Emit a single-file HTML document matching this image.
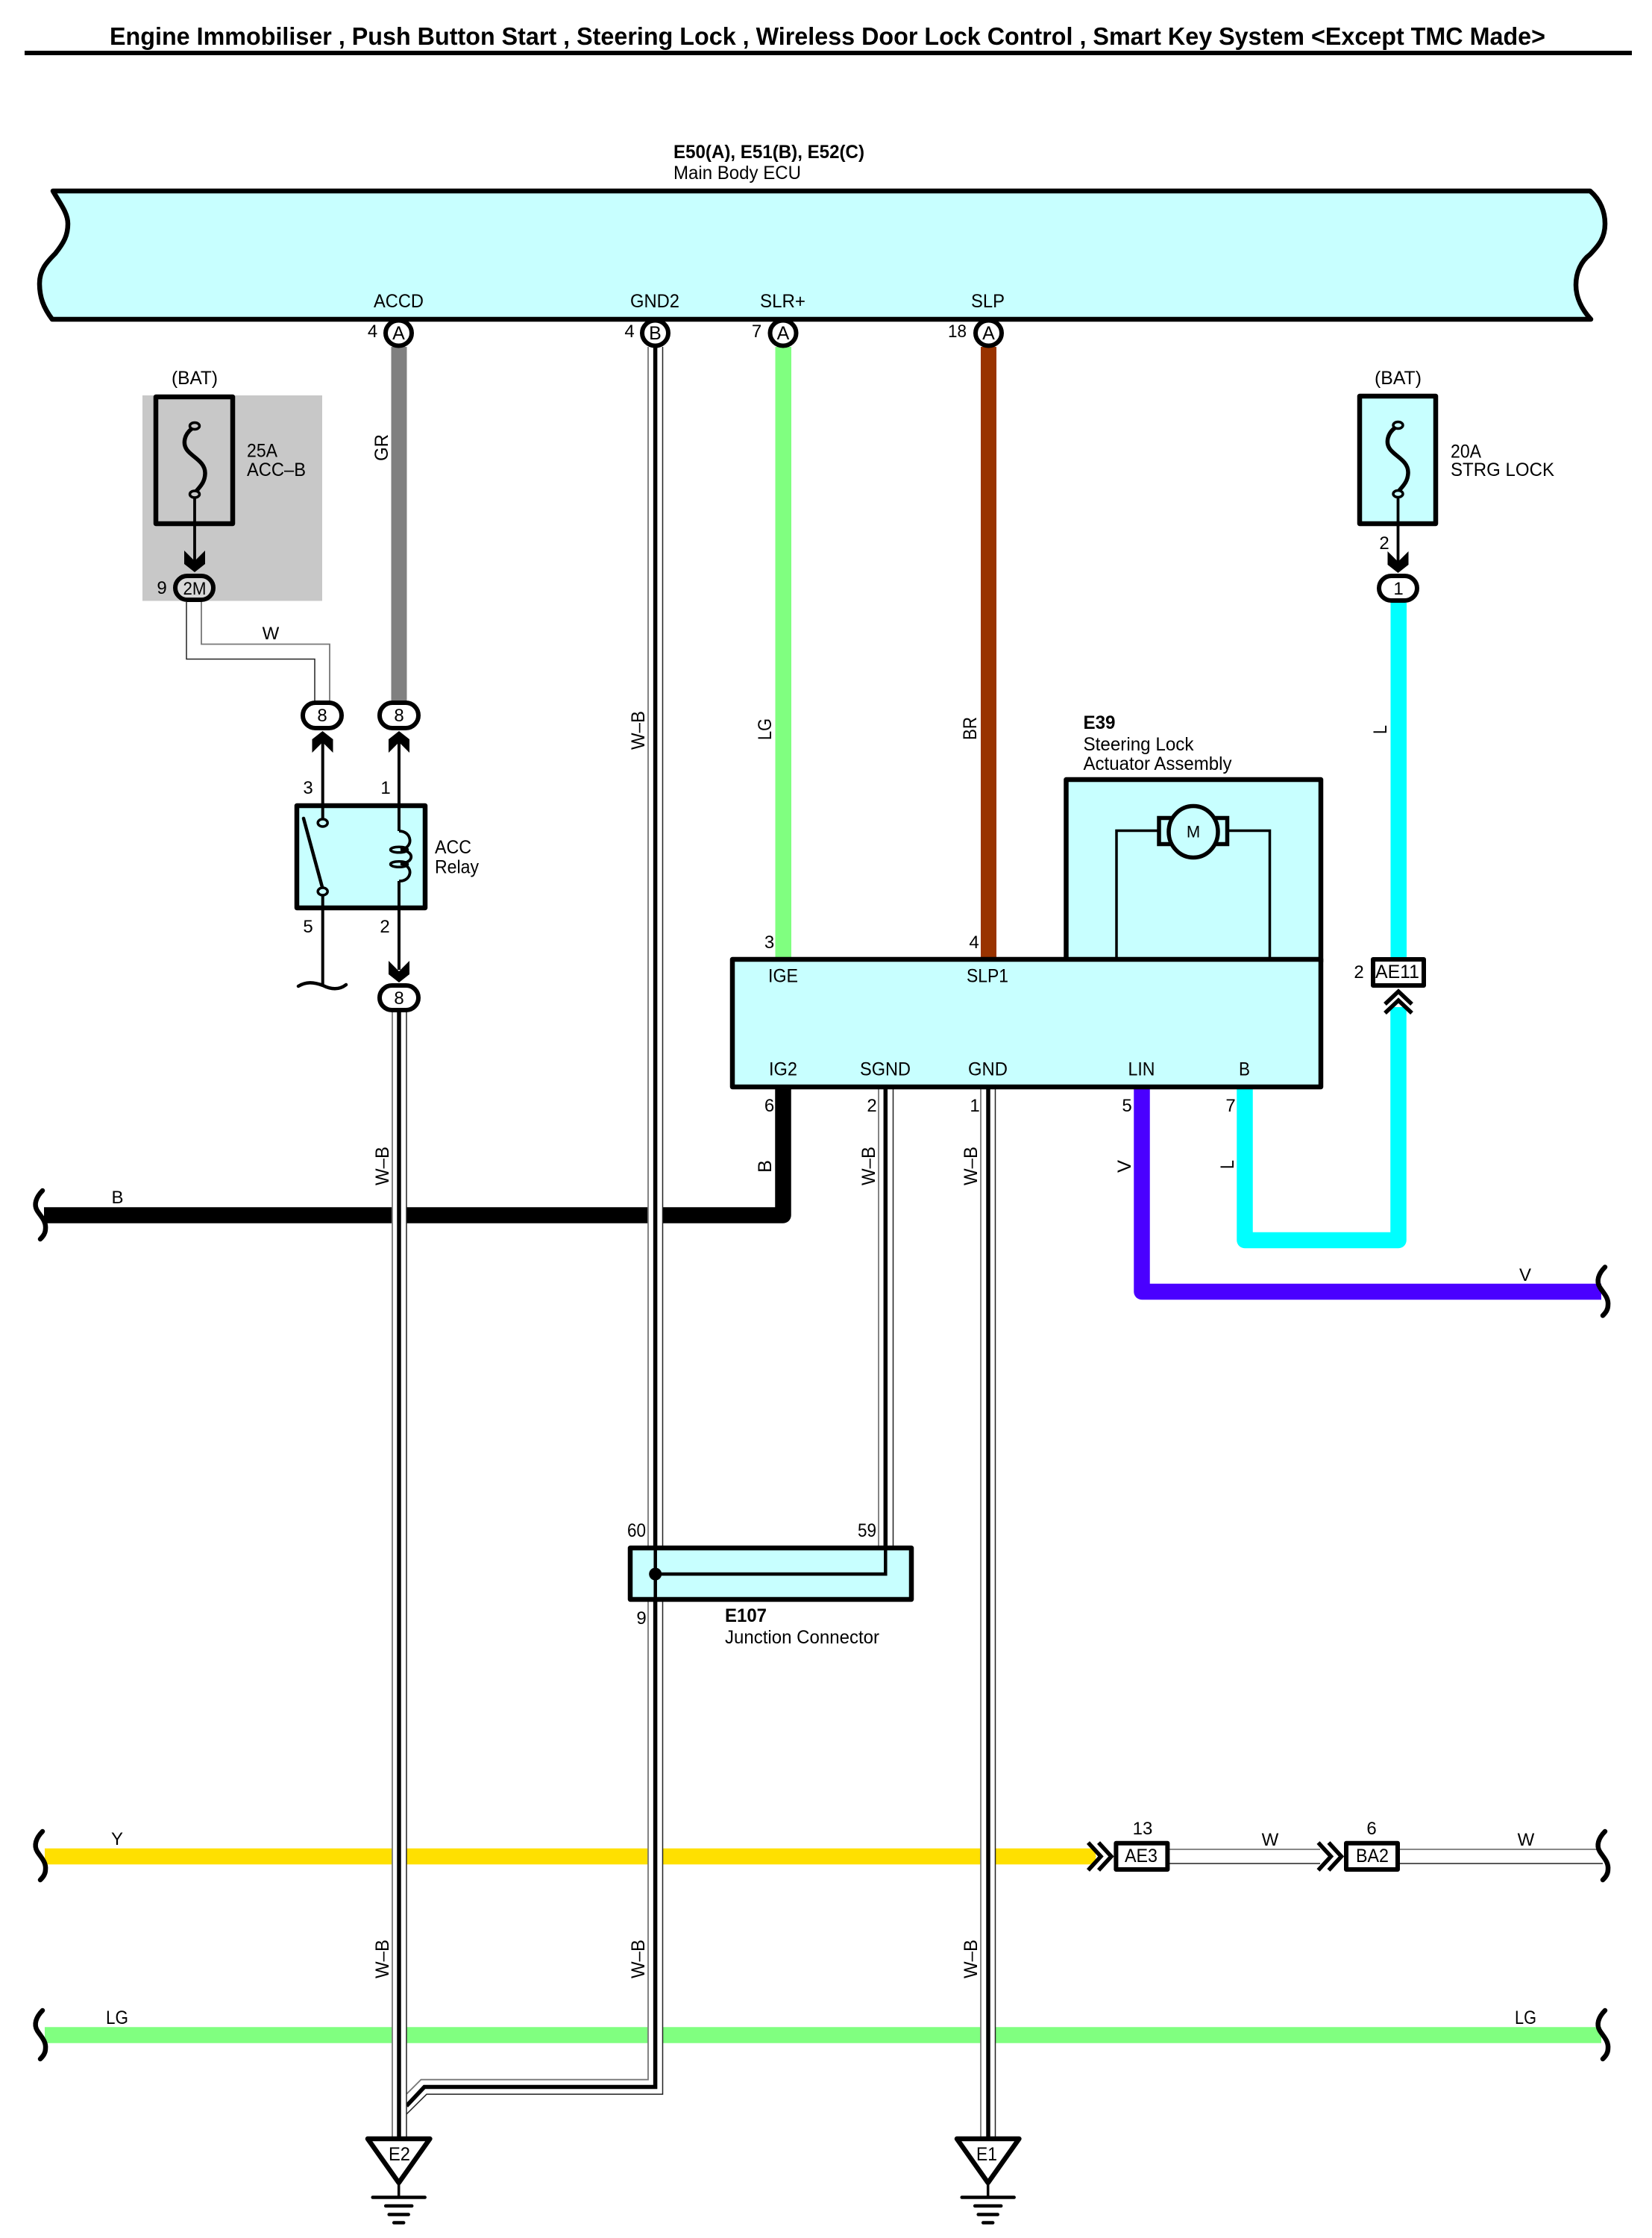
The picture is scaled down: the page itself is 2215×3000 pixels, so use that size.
<!DOCTYPE html>
<html>
<head>
<meta charset="utf-8">
<title>Engine Immobiliser Wiring Diagram</title>
<style>
html,body{margin:0;padding:0;background:#fff;}
svg{display:block;}
text{font-family:"Liberation Sans",sans-serif;font-size:25px;fill:#000;}
.b{font-weight:bold;}
.m{text-anchor:middle;}
.k{fill:none;stroke:#000;}
</style>
</head>
<body>
<svg xmlns="http://www.w3.org/2000/svg" width="2215" height="3000" viewBox="0 0 2215 3000">
<defs>
  <path id="wave" d="M57,-33 C48,-24 45,-14 50,-6 C55,2 62,8 61,18 C61,24 58,28 54,32" fill="none" stroke="#000" stroke-width="6.5" stroke-linecap="round"/>
  <polygon id="chev" points="-14,0 0,14 14,0 14,18 0,29 -14,18"/>
  <g id="gnd">
    <path d="M-41.7,2.5 H41.7 L0,61.5 Z" fill="#fff" stroke="#000" stroke-width="6.5" stroke-linejoin="round" transform="translate(0,2.5)"/>
    <path d="M0,62 V83" stroke="#000" stroke-width="3.5"/>
    <path d="M-35,83.5 H35 M-17.5,95 H17.5 M-13,106.5 H13 M-6.5,117.5 H6.5" stroke="#000" stroke-width="4.5" stroke-linecap="round"/>
  </g>
</defs>

<rect width="2215" height="3000" fill="#fff"/>

<!-- Title -->
<text x="147" y="60" class="b" style="font-size:33px" textLength="1925" lengthAdjust="spacingAndGlyphs">Engine Immobiliser , Push Button Start , Steering Lock , Wireless Door Lock Control , Smart Key System &lt;Except TMC Made&gt;</text>
<rect x="33" y="68" width="2155" height="6"/>

<!-- ECU -->
<text x="903" y="212" class="b" textLength="256" lengthAdjust="spacingAndGlyphs">E50(A), E51(B), E52(C)</text>
<text x="903" y="240" textLength="171" lengthAdjust="spacingAndGlyphs">Main Body ECU</text>
<path d="M71,256 H2132 C2146,268 2152,284 2152,300 C2152,322 2140,332 2132,341 C2120,350 2113,365 2113,382 C2113,400 2122,416 2133,428 H70 C58,412 53,398 53,380 C53,362 62,352 74,340 C86,325 91,315 91,300 C91,285 80,272 71,256 Z" fill="#c8ffff" stroke="#000" stroke-width="6.5" stroke-linejoin="round"/>
<text x="501" y="412" textLength="67" lengthAdjust="spacingAndGlyphs">ACCD</text>
<text x="845" y="412" textLength="66" lengthAdjust="spacingAndGlyphs">GND2</text>
<text x="1019" y="412" textLength="61" lengthAdjust="spacingAndGlyphs">SLR+</text>
<text x="1302" y="412" textLength="45" lengthAdjust="spacingAndGlyphs">SLP</text>

<!-- Gray fuse area -->
<rect x="191" y="530" width="241" height="275.5" fill="#c8c8c8"/>

<!-- Horizontal wires -->
<path d="M60,2488.5 H1462 L1469,2488.5" stroke="#ffe000" stroke-width="21.5" fill="none"/>
<polygon points="1462,2477.7 1470,2488.5 1462,2499.3" fill="#ffe000"/>
<path d="M60,2728 H2147" stroke="#80ff80" stroke-width="21.5" fill="none"/>
<path d="M1050,1460 V1629 H59" stroke="#000" stroke-width="21.5" fill="none" stroke-linejoin="round"/>
<path d="M1531,1460 V1731.5 H2147" stroke="#4a00ff" stroke-width="21.5" fill="none" stroke-linejoin="round"/>
<path d="M1669,1460 V1662.5 H1875 V1350" stroke="#00ffff" stroke-width="21.5" fill="none" stroke-linejoin="round"/>

<!-- W thin wire at right -->
<path d="M1568,2479 H1770 M1877,2479 H2145" stroke="#777" stroke-width="1.8"/>
<path d="M1568,2498 H1770 M1877,2498 H2149" stroke="#222" stroke-width="1.5"/>

<!-- Solid vertical wires -->
<rect x="524.5" y="465" width="21" height="475" fill="#808080"/>
<rect x="1039.5" y="465" width="21.5" height="822" fill="#80ff80"/>
<rect x="1315" y="465" width="21" height="822" fill="#993300"/>
<rect x="1864.5" y="805" width="21.5" height="480" fill="#00ffff"/>

<!-- W wire between 2M and 8 -->
<path d="M250,807 V883.5 H422 V940" fill="none" stroke="#222" stroke-width="1.5"/>
<path d="M270,807 V863.5 H442 V940" fill="none" stroke="#777" stroke-width="1.8"/>

<!-- W-B bend wire -->
<polygon points="869,465 888.5,465 888.5,2807.3 572,2807.3 545,2834 545,2806.7 564.5,2787.7 869,2787.7" fill="#fff"/>
<path d="M869,465 V2787.7 H564.5 L545.4,2806.7" fill="none" stroke="#777" stroke-width="1.8"/>
<path d="M888.5,465 V2807.3 H572 L545,2834" fill="none" stroke="#222" stroke-width="1.5"/>
<path d="M878.6,465 V2797.5 H569 L545,2823" fill="none" stroke="#000" stroke-width="5.5"/>

<!-- W-B left wire -->
<rect x="526" y="1355" width="19" height="1512" fill="#fff"/>
<path d="M526,1355 V2867" stroke="#777" stroke-width="1.8"/>
<path d="M545,1355 V2867" stroke="#222" stroke-width="1.5"/>
<path d="M535,1355 V2867" stroke="#000" stroke-width="5.5"/>

<!-- W-B GND wire -->
<rect x="1315" y="1458" width="19.5" height="1409" fill="#fff"/>
<path d="M1315,1458 V2867" stroke="#777" stroke-width="1.8"/>
<path d="M1334.5,1458 V2867" stroke="#222" stroke-width="1.5"/>
<path d="M1325,1458 V2867" stroke="#000" stroke-width="5.5"/>

<!-- W-B SGND wire -->
<rect x="1178" y="1458" width="19.5" height="616" fill="#fff"/>
<path d="M1178,1458 V2074" stroke="#777" stroke-width="1.8"/>
<path d="M1197.5,1458 V2074" stroke="#222" stroke-width="1.5"/>
<path d="M1187.3,1458 V2074" stroke="#000" stroke-width="5.5"/>

<!-- Break waves -->
<use href="#wave" transform="translate(0,1629)"/>
<use href="#wave" transform="translate(0,2488)"/>
<use href="#wave" transform="translate(0,2728)"/>
<use href="#wave" transform="translate(2095,1731.5)"/>
<use href="#wave" transform="translate(2095,2488)"/>
<use href="#wave" transform="translate(2095,2728)"/>

<!-- ECU connectors -->
<g fill="#fff" stroke="#000" stroke-width="6">
  <ellipse cx="534.5" cy="446.5" rx="17.5" ry="17"/>
  <ellipse cx="878.5" cy="446.5" rx="17.5" ry="17"/>
  <ellipse cx="1050" cy="446.5" rx="17.5" ry="17"/>
  <ellipse cx="1325.5" cy="446.5" rx="17.5" ry="17"/>
</g>
<text x="534.5" y="455" style="font-size:25px;text-anchor:middle">A</text>
<text x="878.5" y="455" style="font-size:25px;text-anchor:middle">B</text>
<text x="1050" y="455" style="font-size:25px;text-anchor:middle">A</text>
<text x="1325.5" y="455" style="font-size:25px;text-anchor:middle">A</text>
<text x="499.5" y="452" style="text-anchor:middle;font-size:24px">4</text>
<text x="844" y="452" style="text-anchor:middle;font-size:24px">4</text>
<text x="1014.5" y="452" style="text-anchor:middle;font-size:24px">7</text>
<text x="1271" y="452" style="font-size:24px" textLength="25" lengthAdjust="spacingAndGlyphs">18</text>

<!-- Left fuse -->
<text x="230" y="515" textLength="62" lengthAdjust="spacingAndGlyphs">(BAT)</text>
<rect x="209" y="532" width="103" height="170" fill="none" stroke="#000" stroke-width="6.5" stroke-linejoin="round"/>
<path d="M258,574 C247,582 245,594 250,602 C256,612 275,618 275,634 C275,648 266,654 262,660" fill="none" stroke="#000" stroke-width="5.5"/>
<path d="M261,665 V760" stroke="#000" stroke-width="3.8"/>
<ellipse cx="261" cy="571" rx="6.5" ry="4.5" fill="#c8c8c8" stroke="#000" stroke-width="3.5"/>
<ellipse cx="261" cy="662.5" rx="6.5" ry="4.5" fill="#c8c8c8" stroke="#000" stroke-width="3.5"/>
<use href="#chev" transform="translate(261,738)"/>
<text x="331" y="612.5" textLength="41" lengthAdjust="spacingAndGlyphs">25A</text>
<text x="331" y="638" textLength="79" lengthAdjust="spacingAndGlyphs">ACC–B</text>
<rect x="235" y="772" width="51" height="32" rx="16" fill="#d8d8d8" stroke="#000" stroke-width="6"/>
<text x="261" y="797" style="text-anchor:middle;font-size:24px" textLength="31" lengthAdjust="spacingAndGlyphs">2M</text>
<text x="217" y="796" style="text-anchor:middle;font-size:24px">9</text>
<text x="363" y="857" style="text-anchor:middle;font-size:24px">W</text>

<!-- Connector 8s and relay -->
<rect x="406" y="942" width="52" height="34" rx="17" fill="#fff" stroke="#000" stroke-width="6"/>
<rect x="509" y="942" width="52" height="34" rx="17" fill="#fff" stroke="#000" stroke-width="6"/>
<text x="432" y="967" style="text-anchor:middle;font-size:24px">8</text>
<text x="535" y="967" style="text-anchor:middle;font-size:24px">8</text>
<use href="#chev" transform="translate(432.5,1009) rotate(180)"/>
<use href="#chev" transform="translate(535,1009) rotate(180)"/>
<path d="M432.7,990 V1100 M535,990 V1114 M432.7,1198 V1321 M535,1181 V1300" stroke="#000" stroke-width="4" fill="none"/>
<rect x="398" y="1080" width="172" height="137" fill="#c8ffff" stroke="#000" stroke-width="6.5" stroke-linejoin="round"/>
<path d="M432.7,1077 V1100 M535,1077 V1114 M432.7,1198 V1220 M535,1181 V1220" stroke="#000" stroke-width="4" fill="none"/>
<ellipse cx="432.7" cy="1103" rx="6.5" ry="5" fill="#c8ffff" stroke="#000" stroke-width="3.5"/>
<ellipse cx="432.7" cy="1195" rx="6.5" ry="5" fill="#c8ffff" stroke="#000" stroke-width="3.5"/>
<path d="M407,1097 L432,1189" stroke="#000" stroke-width="4.5" stroke-linecap="round"/>
<path d="M535,1114 C552,1114 556,1136 537,1139 M537,1139 C556,1141 556,1156 537,1158 M537,1158 C556,1160 552,1182 535,1181" fill="none" stroke="#000" stroke-width="3.8"/>
<ellipse cx="535" cy="1139" rx="11.5" ry="3.8" fill="none" stroke="#000" stroke-width="3.5"/>
<ellipse cx="535" cy="1158.5" rx="11.5" ry="3.8" fill="none" stroke="#000" stroke-width="3.5"/>
<text x="413" y="1064" style="text-anchor:middle;font-size:24px">3</text>
<text x="517" y="1064" style="text-anchor:middle;font-size:24px">1</text>
<text x="413" y="1250" style="text-anchor:middle;font-size:24px">5</text>
<text x="516" y="1250" style="text-anchor:middle;font-size:24px">2</text>
<text x="583" y="1144" textLength="49" lengthAdjust="spacingAndGlyphs">ACC</text>
<text x="583" y="1170.5" textLength="59" lengthAdjust="spacingAndGlyphs">Relay</text>
<path d="M400,1322 C410,1316 420,1316 433,1321 C445,1327 455,1327 464,1320" fill="none" stroke="#000" stroke-width="4.5" stroke-linecap="round"/>
<use href="#chev" transform="translate(535,1288)"/>
<rect x="509" y="1321" width="52" height="33" rx="16.5" fill="#fff" stroke="#000" stroke-width="6"/>
<text x="535" y="1346" style="text-anchor:middle;font-size:24px">8</text>

<!-- Right fuse -->
<text x="1843" y="515" textLength="63" lengthAdjust="spacingAndGlyphs">(BAT)</text>
<rect x="1823" y="531" width="102" height="171" fill="#c8ffff" stroke="#000" stroke-width="6.5" stroke-linejoin="round"/>
<path d="M1871,573 C1860,581 1858,593 1863,601 C1869,611 1888,617 1888,633 C1888,647 1879,653 1875,659" fill="none" stroke="#000" stroke-width="5.5"/>
<path d="M1874.5,665 V760" stroke="#000" stroke-width="3.8"/>
<ellipse cx="1874.5" cy="570" rx="6.5" ry="4.5" fill="#c8ffff" stroke="#000" stroke-width="3.5"/>
<ellipse cx="1874.5" cy="662" rx="6.5" ry="4.5" fill="#c8ffff" stroke="#000" stroke-width="3.5"/>
<use href="#chev" transform="translate(1874.5,739)"/>
<text x="1945" y="613.5" textLength="41" lengthAdjust="spacingAndGlyphs">20A</text>
<text x="1945" y="638" textLength="139" lengthAdjust="spacingAndGlyphs">STRG LOCK</text>
<text x="1856" y="736" style="text-anchor:middle;font-size:24px">2</text>
<rect x="1849" y="772" width="51" height="33" rx="16.5" fill="#fff" stroke="#000" stroke-width="6"/>
<text x="1875" y="797" style="text-anchor:middle;font-size:24px">1</text>

<!-- E39 + module -->
<text x="1452.5" y="977" class="b" textLength="43" lengthAdjust="spacingAndGlyphs">E39</text>
<text x="1452.5" y="1006" textLength="148" lengthAdjust="spacingAndGlyphs">Steering Lock</text>
<text x="1452.5" y="1032" textLength="199" lengthAdjust="spacingAndGlyphs">Actuator Assembly</text>
<rect x="1429.5" y="1045" width="341.5" height="244" fill="#c8ffff" stroke="#000" stroke-width="6.5" stroke-linejoin="round"/>
<path d="M1497,1286 V1113.5 H1702.5 V1286" fill="none" stroke="#000" stroke-width="3.5"/>
<rect x="1554" y="1096.5" width="91.5" height="35" fill="#c8ffff" stroke="#000" stroke-width="5.5"/>
<ellipse cx="1600" cy="1115" rx="33" ry="34.5" fill="#c8ffff" stroke="#000" stroke-width="5.5"/>
<text x="1600" y="1122.5" style="text-anchor:middle;font-size:22px">M</text>
<rect x="982" y="1286" width="789" height="171" fill="#c8ffff" stroke="#000" stroke-width="6.5" stroke-linejoin="round"/>
<text x="1030" y="1316.5" textLength="40" lengthAdjust="spacingAndGlyphs">IGE</text>
<text x="1296" y="1316.5" textLength="56" lengthAdjust="spacingAndGlyphs">SLP1</text>
<text x="1031" y="1441.5" textLength="38" lengthAdjust="spacingAndGlyphs">IG2</text>
<text x="1153" y="1441.5" textLength="68" lengthAdjust="spacingAndGlyphs">SGND</text>
<text x="1298" y="1441.5" textLength="53" lengthAdjust="spacingAndGlyphs">GND</text>
<text x="1512.5" y="1441.5" textLength="36" lengthAdjust="spacingAndGlyphs">LIN</text>
<text x="1661" y="1441.5" textLength="15" lengthAdjust="spacingAndGlyphs">B</text>
<text x="1031.5" y="1271" style="text-anchor:middle;font-size:24px">3</text>
<text x="1306" y="1271" style="text-anchor:middle;font-size:24px">4</text>
<text x="1031.5" y="1490" style="text-anchor:middle;font-size:24px">6</text>
<text x="1169" y="1490" style="text-anchor:middle;font-size:24px">2</text>
<text x="1307" y="1490" style="text-anchor:middle;font-size:24px">1</text>
<text x="1511" y="1490" style="text-anchor:middle;font-size:24px">5</text>
<text x="1650" y="1490" style="text-anchor:middle;font-size:24px">7</text>

<!-- AE11 -->
<rect x="1841" y="1286" width="68" height="35" fill="#fff" stroke="#000" stroke-width="6" stroke-linejoin="round"/>
<text x="1844" y="1311" textLength="59" lengthAdjust="spacingAndGlyphs">AE11</text>
<text x="1822" y="1311" style="text-anchor:middle;font-size:24px">2</text>
<path d="M1857,1346 L1875,1329 L1893,1346 M1857,1358 L1875,1341 L1893,1358" fill="none" stroke="#000" stroke-width="5.5"/>

<!-- E107 -->
<rect x="845" y="2075" width="377" height="69" fill="#c8ffff" stroke="#000" stroke-width="6.5" stroke-linejoin="round"/>
<path d="M878.7,2072 V2147 M1187.3,2072 V2110 H878.7" fill="none" stroke="#000" stroke-width="4.5"/>
<circle cx="878.7" cy="2110" r="8.5"/>
<text x="841" y="2060" textLength="25" lengthAdjust="spacingAndGlyphs">60</text>
<text x="1150" y="2060" textLength="25" lengthAdjust="spacingAndGlyphs">59</text>
<text x="860" y="2177" style="text-anchor:middle;font-size:24px">9</text>
<text x="972" y="2174" class="b" textLength="56" lengthAdjust="spacingAndGlyphs">E107</text>
<text x="972" y="2203" textLength="207" lengthAdjust="spacingAndGlyphs">Junction Connector</text>

<!-- AE3 / BA2 -->
<g fill="none" stroke="#000" stroke-width="5.5">
  <path d="M1459,2470 L1476,2488.5 L1459,2507 M1473,2470 L1490,2488.5 L1473,2507"/>
  <path d="M1767.5,2470 L1784.5,2488.5 L1767.5,2507 M1781.5,2470 L1798.5,2488.5 L1781.5,2507"/>
</g>
<rect x="1496.4" y="2470.7" width="69" height="35.3" fill="#fff" stroke="#000" stroke-width="6" stroke-linejoin="round"/>
<rect x="1805" y="2470.7" width="69" height="35.3" fill="#fff" stroke="#000" stroke-width="6" stroke-linejoin="round"/>
<text x="1508" y="2496" textLength="44" lengthAdjust="spacingAndGlyphs">AE3</text>
<text x="1818" y="2496" textLength="44" lengthAdjust="spacingAndGlyphs">BA2</text>
<text x="1532" y="2459" style="text-anchor:middle;font-size:24px">13</text>
<text x="1839" y="2459" style="text-anchor:middle;font-size:24px">6</text>
<text x="1703" y="2474" style="text-anchor:middle;font-size:24px">W</text>
<text x="2046" y="2474" style="text-anchor:middle;font-size:24px">W</text>

<!-- Ground symbols -->
<use href="#gnd" transform="translate(534.7,2862)"/>
<use href="#gnd" transform="translate(1324.7,2862)"/>
<text x="521" y="2896" textLength="29" lengthAdjust="spacingAndGlyphs">E2</text>
<text x="1309" y="2896" textLength="28" lengthAdjust="spacingAndGlyphs">E1</text>

<!-- Horizontal labels -->
<text x="157.5" y="1613" style="text-anchor:middle;font-size:24px">B</text>
<text x="157" y="2473" style="text-anchor:middle;font-size:24px">Y</text>
<text x="142" y="2713" textLength="30" lengthAdjust="spacingAndGlyphs">LG</text>
<text x="2031" y="2713" textLength="29" lengthAdjust="spacingAndGlyphs">LG</text>
<text x="2045" y="1717" style="text-anchor:middle;font-size:24px">V</text>

<!-- Rotated labels -->
<text transform="translate(520,618) rotate(-90)" textLength="36" lengthAdjust="spacingAndGlyphs">GR</text>
<text transform="translate(1034,992) rotate(-90)" textLength="29" lengthAdjust="spacingAndGlyphs">LG</text>
<text transform="translate(1309,992) rotate(-90)" textLength="31" lengthAdjust="spacingAndGlyphs">BR</text>
<text transform="translate(1859,984) rotate(-90)" textLength="12" lengthAdjust="spacingAndGlyphs">L</text>
<text transform="translate(864,1005) rotate(-90)" textLength="52" lengthAdjust="spacingAndGlyphs">W–B</text>
<text transform="translate(521,1589) rotate(-90)" textLength="52" lengthAdjust="spacingAndGlyphs">W–B</text>
<text transform="translate(1173,1589) rotate(-90)" textLength="52" lengthAdjust="spacingAndGlyphs">W–B</text>
<text transform="translate(1310,1589) rotate(-90)" textLength="52" lengthAdjust="spacingAndGlyphs">W–B</text>
<text transform="translate(1034,1572) rotate(-90)" textLength="17" lengthAdjust="spacingAndGlyphs">B</text>
<text transform="translate(1516,1572) rotate(-90)" textLength="17" lengthAdjust="spacingAndGlyphs">V</text>
<text transform="translate(1654,1567) rotate(-90)" textLength="12" lengthAdjust="spacingAndGlyphs">L</text>
<text transform="translate(521,2652) rotate(-90)" textLength="52" lengthAdjust="spacingAndGlyphs">W–B</text>
<text transform="translate(864,2652) rotate(-90)" textLength="52" lengthAdjust="spacingAndGlyphs">W–B</text>
<text transform="translate(1310,2652) rotate(-90)" textLength="52" lengthAdjust="spacingAndGlyphs">W–B</text>
</svg>
</body>
</html>
